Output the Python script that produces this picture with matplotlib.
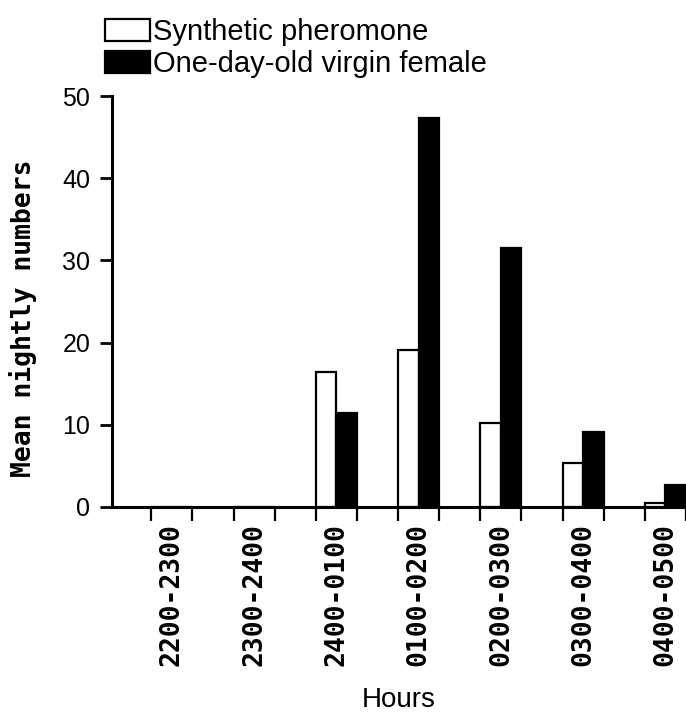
import numpy as np
import matplotlib
matplotlib.use("Agg")
import matplotlib.pyplot as plt

# data
hours = ["2200-2300", "2300-2400", "2400-0100", "0100-0200",
         "0200-0300", "0300-0400", "0400-0500"]
synthetic = [0, 0, 16.4, 19.1, 10.2, 5.4, 0.5]
virgin_female = [0, 0, 11.4, 47.3, 31.5, 9.1, 2.7]
y_ticks = [0, 10, 20, 30, 40, 50]

plt.rcParams["font.family"] = ["Liberation Sans", "DejaVu Sans"]
mono = ["DejaVu Sans Mono"]

fig = plt.figure(figsize=(6.86, 7.12), dpi=100)
ax = fig.add_axes([0.163, 0.288, 0.837, 0.577])

x = np.arange(len(hours))
w = 0.25
b1 = ax.bar(x - w / 2, synthetic, width=w, color="white", edgecolor="black",
            linewidth=1.6, label="Synthetic pheromone")
b2 = ax.bar(x + w / 2, virgin_female, width=w, color="black", edgecolor="black",
            linewidth=1.6, label="One-day-old virgin female")

ax.set_xlim(-0.73, 6.23)
ax.set_ylim(0, 50)
ax.set_yticks(y_ticks)
ax.tick_params(axis="y", labelsize=18, length=8.5, width=2, pad=7)

# labels centred on groups, tick marks at group edges
ax.set_xticks(x)
ax.set_xticklabels(hours, rotation=90, family=mono, fontweight="bold", fontsize=19)
ax.tick_params(axis="x", which="major", length=0, pad=12)
ax.set_xticks(np.concatenate([x - 0.25, x + 0.25]), minor=True)
ax.tick_params(axis="x", which="minor", length=10, width=1.6, direction="out")

for s in ["top", "right"]:
    ax.spines[s].set_visible(False)
for s in ["left", "bottom"]:
    ax.spines[s].set_linewidth(2.2)

ax.set_ylabel("Mean nightly numbers", family=mono, fontweight="bold", fontsize=19)
ax.yaxis.set_label_coords(-0.13, 0.46)
ax.set_xlabel("Hours", fontsize=20)
ax.xaxis.set_label_coords(0.5, -0.438)

fig.legend(handles=[b1, b2], loc="upper left", bbox_to_anchor=(0.153, 0.975),
           frameon=False, fontsize=21, handlelength=1.55, handleheight=0.8,
           handletextpad=0.1, labelspacing=0.15, borderpad=0, borderaxespad=0)

fig.savefig("out.png", dpi=100)
